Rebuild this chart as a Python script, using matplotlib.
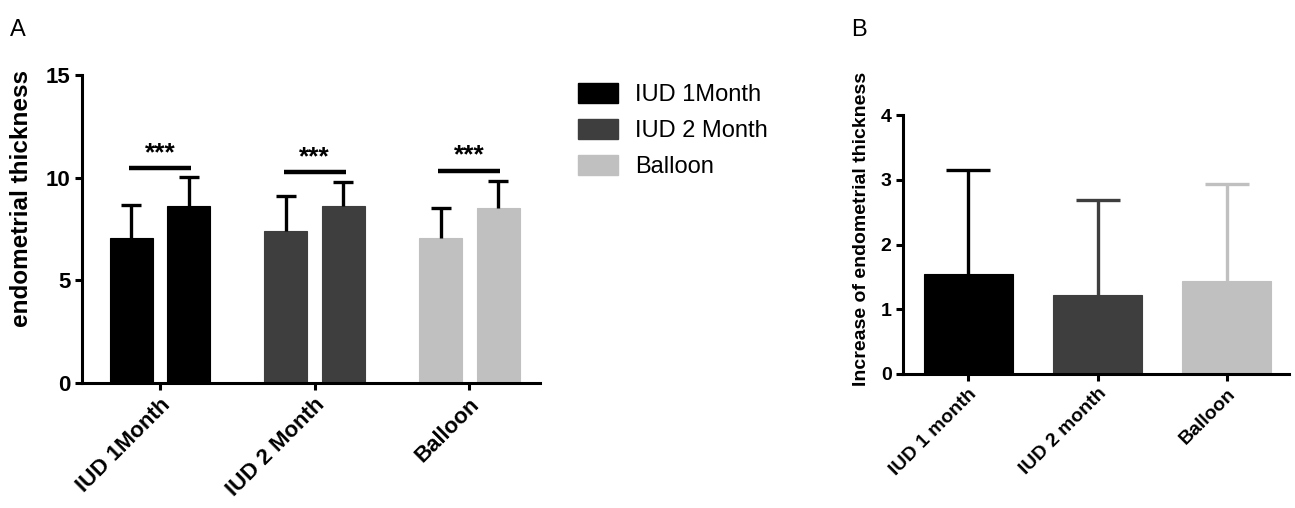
import numpy as np
import matplotlib
matplotlib.use("Agg")
import matplotlib.pyplot as plt
from matplotlib.patches import Patch

plt.rcParams['font.family'] = ['Liberation Sans', 'DejaVu Sans']

# Panel A data
groups_a = ['IUD 1Month', 'IUD 2 Month', 'Balloon']
before_mean = [7.08, 7.42, 7.06]
before_sd = [1.59, 1.68, 1.46]
after_mean = [8.64, 8.65, 8.52]
after_sd = [1.38, 1.14, 1.32]
sig_labels = ['***', '***', '***']
sig_height = [10.46, 10.28, 10.35]

# Panel B data
groups_b = ['IUD 1 month', 'IUD 2 month', 'Balloon']
increase_mean = [1.54, 1.22, 1.43]
increase_sd = [1.61, 1.47, 1.50]

colors = ['#000000', '#3e3e3e', '#c0c0c0']


def upper_errorbar(axis, xpos, mean, sd, color, capsize):
    # only the upper whisker, like GraphPad "above" error bars
    eb = axis.errorbar(xpos, mean, yerr=[[0], [sd]], color=color, capsize=capsize,
                       elinewidth=2.4, capthick=2.4, fmt='none', zorder=3)
    eb[1][0].set_visible(False)


fig = plt.figure(figsize=(12.95, 5.08), dpi=100)

# ---------- Panel A ----------
ax = fig.add_axes([0.0633, 0.246, 0.354, 0.606])
x = np.arange(len(groups_a))
off = 0.186
w = 0.278
for i in range(len(groups_a)):
    for xm, m, s in [(x[i] - off, before_mean[i], before_sd[i]),
                     (x[i] + off, after_mean[i], after_sd[i])]:
        ax.bar(xm, m, width=w, color=colors[i], edgecolor=colors[i], linewidth=0.8,
               zorder=2)
        upper_errorbar(ax, xm, m, s, 'black', 7)
    ax.plot([x[i] - 0.2, x[i] + 0.2], [sig_height[i]] * 2, color='black', lw=3.2,
            solid_capstyle='butt')
    ax.text(x[i], sig_height[i] + 0.15, sig_labels[i], ha='center', va='bottom',
            fontsize=19, fontweight='bold')

ax.set_xlim(-0.505, 2.46)
ax.set_ylim(0, 15)
ax.set_yticks([0, 5, 10, 15])
ax.set_xticks(x)
ax.set_xticklabels(groups_a, rotation=45, ha='right', rotation_mode='anchor',
                   fontsize=16, fontweight='bold')
for lab in ax.get_yticklabels():
    lab.set_fontweight('bold')
    lab.set_fontsize(16)
ax.set_ylabel('endometrial thickness', fontsize=17.5, fontweight='bold')
ax.yaxis.set_label_coords(-0.107, 0.6)
for sp in ['top', 'right']:
    ax.spines[sp].set_visible(False)
for sp in ['left', 'bottom']:
    ax.spines[sp].set_linewidth(2.2)
ax.tick_params(width=2.2, length=5, pad=3)

handles = [Patch(facecolor=c, edgecolor=c) for c in colors]
fig.legend(handles, groups_a, loc='upper left', bbox_to_anchor=(0.43, 0.878),
           frameon=False, fontsize=17, handlelength=1.7, handleheight=0.9,
           handletextpad=0.7, labelspacing=0.55)

fig.text(0.008, 0.93, 'A', fontsize=17)

# ---------- Panel B ----------
bx = fig.add_axes([0.697, 0.2638, 0.298, 0.5098])
xb = np.arange(len(groups_b))
for i in range(len(groups_b)):
    bx.bar(xb[i], increase_mean[i], width=0.687, color=colors[i],
           edgecolor=colors[i], linewidth=0.8, zorder=2)
    upper_errorbar(bx, xb[i], increase_mean[i], increase_sd[i], colors[i], 16)
bx.set_xlim(-0.51, 2.48)
bx.set_ylim(0, 4)
bx.set_yticks([0, 1, 2, 3, 4])
bx.set_xticks(xb)
bx.set_xticklabels(groups_b, rotation=45, ha='right', rotation_mode='anchor',
                   fontsize=14, fontweight='bold')
for lab in bx.get_yticklabels():
    lab.set_fontweight('bold')
    lab.set_fontsize(14)
bx.set_ylabel('Increase of endometrial thickness', fontsize=14, fontweight='bold')
bx.yaxis.set_label_coords(-0.085, 0.56)
for sp in ['top', 'right']:
    bx.spines[sp].set_visible(False)
for sp in ['left', 'bottom']:
    bx.spines[sp].set_linewidth(2.2)
bx.tick_params(width=2.2, length=5, pad=3)

fig.text(0.657, 0.93, 'B', fontsize=17)

plt.savefig('out.png', dpi=100)
